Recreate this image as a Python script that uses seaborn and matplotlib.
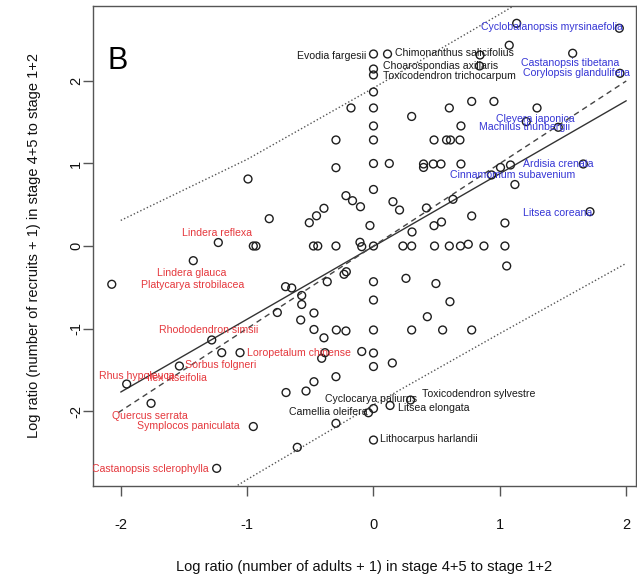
import numpy as np
import pandas as pd
import matplotlib
matplotlib.use("Agg")
import matplotlib.pyplot as plt
import seaborn as sns

# ---------------- data ----------------
adults_x = [1.133, 1.945, 1.074, 0.843, 1.576, 0.0, 0.111, 0.0, 0.0, 0.839,
            1.950, 0.0, -0.178, 0.0, 0.600, 0.777, 0.953, 1.294, 0.302, 0.0,
            0.692, 1.209, 1.462, -0.297, 0.0, 0.479, 0.578, 0.609, 0.684, -0.297,
            0.0, 0.125, 0.396, 0.396, 0.473, 0.534, 0.692, 1.005, 1.084, 1.660,
            0.934, 1.119, -0.993, 0.0, -0.218, -0.166, -0.103, 0.154, 0.206, 0.419,
            0.629, 1.713, -0.392, -0.451, -0.508, -0.825, -0.028, 0.305, 0.479, 0.538,
            0.777, 1.040, -1.228, -0.951, -0.930, -0.475, -0.441, -0.297, -0.107, -0.093,
            0.0, 0.233, 0.302, 0.483, 0.600, 0.688, 0.750, 0.874, 1.040, -1.426,
            -2.071, -0.696, -0.647, -0.366, -0.233, -0.215, 0.0, 0.257, 0.494, 1.054,
            -0.568, -0.568, 0.0, 0.605, -0.761, -0.471, -0.576, 0.426, -1.280, -0.471,
            -0.294, -0.218, 0.0, 0.302, 0.547, 0.777, -0.392, -1.201, -1.056, -0.384,
            -0.410, -0.093, 0.0, 0.0, 0.149, -1.536, -0.297, -0.471, -0.692, -0.534,
            -1.953, -1.760, 0.293, 0.131, 0.0, -0.040, -0.951, -0.297, 0.0, -0.603,
            -1.241]
recruits_y = [2.699, 2.639, 2.433, 2.315, 2.336, 2.327, 2.327, 2.145, 2.073, 2.182,
              2.093, 1.867, 1.673, 1.673, 1.673, 1.752, 1.752, 1.673, 1.570, 1.455,
              1.455, 1.507, 1.439, 1.285, 1.285, 1.285, 1.285, 1.285, 1.285, 0.949,
              1.0, 1.0, 0.994, 0.952, 0.994, 0.994, 0.994, 0.952, 0.982, 0.994,
              0.861, 0.745, 0.812, 0.685, 0.610, 0.549, 0.476, 0.537, 0.436, 0.461,
              0.566, 0.416, 0.457, 0.366, 0.282, 0.331, 0.248, 0.170, 0.246, 0.291,
              0.364, 0.279, 0.042, 0.0, 0.0, 0.0, 0.0, 0.0, 0.045, -0.008,
              0.0, 0.0, 0.0, 0.0, 0.0, 0.0, 0.021, 0.0, 0.0, -0.178,
              -0.464, -0.493, -0.509, -0.433, -0.343, -0.312, -0.433, -0.392, -0.455, -0.242,
              -0.600, -0.709, -0.655, -0.675, -0.806, -0.812, -0.897, -0.857, -1.139, -1.012,
              -1.018, -1.030, -1.018, -1.018, -1.018, -1.018, -1.113, -1.293, -1.293, -1.293,
              -1.361, -1.279, -1.297, -1.461, -1.418, -1.455, -1.584, -1.645, -1.776, -1.758,
              -1.673, -1.907, -1.867, -1.933, -1.970, -2.021, -2.188, -2.149, -2.352, -2.440,
              -2.695]

# fitted regression line, 1:1 line and prediction band
fit_x = [-2.0, 2.0]
fit_y = [-1.77, 1.76]
one_x = [-2.02, 2.0]
one_y = [-2.02, 2.0]
band_x = [-2.0, -1.0, 0.0, 1.0, 2.0]
band_upper = [0.31, 1.05, 1.915, 2.81, 3.73]
band_lower = [-3.77, -2.83, -1.925, -1.06, -0.21]

# species labels: name, group, anchor x, anchor y
label_names = ["Evodia fargesii", "Chimonanthus salicifolius", "Choarospondias axillaris",
               "Toxicodendron trichocarpum", "Cyclocarya paliurus", "Toxicodendron sylvestre",
               "Camellia oleifera", "Litsea elongata", "Lithocarpus harlandii",
               "Cyclobalanopsis myrsinaefolia", "Castanopsis tibetana", "Corylopsis glandulifera",
               "Cleyera japonica", "Machilus thunbergii", "Ardisia crenata",
               "Cinnamomum subavenium", "Litsea coreana",
               "Lindera reflexa", "Lindera glauca", "Platycarya strobilacea",
               "Rhododendron simsii", "Loropetalum chinense", "Sorbus folgneri",
               "Rhus hypoleuca", "Ilex litseifolia", "Quercus serrata",
               "Symplocos paniculata", "Castanopsis sclerophylla"]
label_group = ["neutral"] * 9 + ["gain"] * 8 + ["loss"] * 11
label_x = [-0.059, 0.170, 0.075, 0.075, -0.384, 0.381, -0.044, 0.196, 0.051,
           0.848, 1.167, 1.183, 0.967, 0.837, 1.185, 0.605, 1.180,
           -1.517, -1.710, -1.839, -1.695, -1.003, -1.491, -1.570, -1.794, -2.071,
           -1.873, -1.307]
label_y = [2.297, 2.345, 2.176, 2.061, -1.855, -1.794, -2.012, -1.967, -2.339,
           2.651, 2.212, 2.101, 1.539, 1.439, 0.994, 0.861, 0.404,
           0.161, -0.324, -0.473, -1.018, -1.301, -1.442, -1.576, -1.604, -2.057,
           -2.182, -2.707]
label_align = ["right", "left", "left", "left", "left", "left", "right", "left", "left",
               "left", "left", "left", "left", "left", "left", "left", "left",
               "left", "left", "left", "left", "left", "left", "right", "left", "left",
               "left", "right"]

x_ticks = [-2, -1, 0, 1, 2]
y_ticks = [-2, -1, 0, 1, 2]
x_label = "Log ratio (number of adults + 1) in stage 4+5 to stage 1+2"
y_label = "Log ratio (number of recruits + 1) in stage 4+5 to stage 1+2"
panel = "B"

# ---------------- plotting ----------------
sns.set_theme(style="white")
plt.rcParams["font.family"] = ["Liberation Sans", "DejaVu Sans"]

fig = plt.figure(figsize=(6.37, 5.81), dpi=100)
ax = fig.add_axes([0.1455, 0.1635, 0.9984 - 0.1455, 0.9897 - 0.1635])

pts = pd.DataFrame({"x": adults_x, "y": recruits_y})
sns.scatterplot(data=pts, x="x", y="y", ax=ax, s=32, marker="o",
                facecolors="none", edgecolor="#1e1e1e", linewidth=1.0, zorder=3)

sns.lineplot(x=fit_x, y=fit_y, ax=ax, color="#333333", lw=1.0, sort=False,
             estimator=None, zorder=2)
sns.lineplot(x=one_x, y=one_y, ax=ax, color="#444444", lw=1.0, sort=False,
             estimator=None, dashes=False, zorder=2).lines[-1].set_dashes((4, 3))
l_up = sns.lineplot(x=band_x, y=band_upper, ax=ax, color="#555555", lw=1.0,
                    sort=False, estimator=None, zorder=2).lines[-1]
l_up.set_dashes((1, 1.6))
l_lo = sns.lineplot(x=band_x, y=band_lower, ax=ax, color="#555555", lw=1.0,
                    sort=False, estimator=None, zorder=2).lines[-1]
l_lo.set_dashes((1, 1.6))

colors = {"neutral": "#1a1a1a", "gain": "#3535d5", "loss": "#e5383d"}
for name, g, lx, ly, ha in zip(label_names, label_group, label_x, label_y, label_align):
    ax.text(lx, ly, name, color=colors[g], fontsize=7.6, ha=ha, va="center",
            clip_on=True, zorder=4)

ax.text(0.028, 0.869, panel, transform=ax.transAxes, fontsize=22,
        ha="left", va="baseline", color="black")

ax.set_xlim(-2.222, 2.077)
ax.set_ylim(-2.909, 2.909)
ax.set_xticks(x_ticks)
ax.set_yticks(y_ticks)
ax.set_xticklabels([str(t) for t in x_ticks])
ax.set_yticklabels([str(t) for t in y_ticks], rotation=90, va="center")
ax.tick_params(axis="x", direction="out", length=7, width=1, color="#555555",
               pad=16, labelsize=10.5, labelcolor="#111111", bottom=True)
ax.tick_params(axis="y", direction="out", length=7, width=1, color="#555555",
               pad=0, labelsize=10.5, labelcolor="#111111", left=True)
ax.set_xlabel(x_label, fontsize=10.5, color="#111111")
ax.set_ylabel(y_label, fontsize=10.5, color="#111111")
ax.xaxis.set_label_coords(0.5, -0.155)
ax.yaxis.set_label_coords(-0.095, 0.5)
for sp in ax.spines.values():
    sp.set_color("#555555")
    sp.set_linewidth(1.0)
if ax.get_legend() is not None:
    ax.get_legend().remove()

fig.savefig("out.png", dpi=100)
